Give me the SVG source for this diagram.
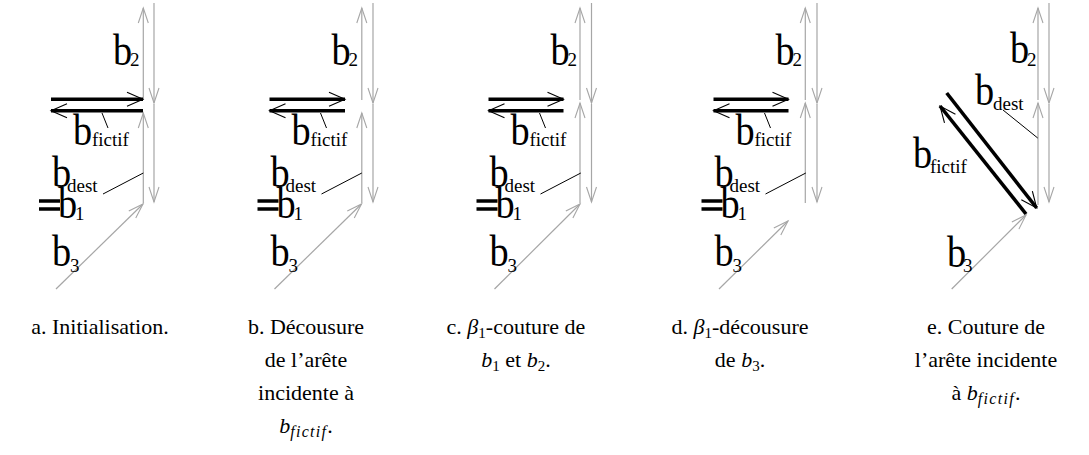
<svg xmlns="http://www.w3.org/2000/svg" width="1089" height="455" viewBox="0 0 1089 455" font-family="Liberation Serif, DejaVu Serif, serif">
<style>
.g{stroke:#a6a6a6;stroke-width:1.2;fill:none}
.k{stroke:#000;stroke-width:3.6;fill:none}
.l{stroke:#000;stroke-width:1;fill:none}
.ga{marker-end:url(#ag)}
.ka{marker-end:url(#ak)}
.B,.S,.cap{font-family:"Liberation Serif","DejaVu Serif",serif;fill:#000}
.B{font-size:44px}
.S{font-size:19px}
.cap{font-size:22px;text-anchor:middle}
.m{font-style:italic}
.sub{font-size:16px;font-style:italic;letter-spacing:1.3px}
.n{font-size:15px}
</style>
<defs>
<marker id="ag" markerUnits="userSpaceOnUse" markerWidth="20" markerHeight="14" viewBox="-16 -7 20 14" refX="0" refY="0" orient="auto" overflow="visible">
<path d="M-15,-5 L0,0 L-15,5" fill="none" stroke="#a6a6a6" stroke-width="1.1"/>
</marker>
<marker id="ak" markerUnits="userSpaceOnUse" markerWidth="20" markerHeight="18" viewBox="-18 -9 20 18" refX="0" refY="0" orient="auto" overflow="visible">
<path d="M-16,-7 L0,0 L-16,7" fill="none" stroke="#000" stroke-width="1.1"/>
</marker>
<g id="lbl">
<text class="B" transform="matrix(0.87,0,0,1,113,65)">b</text><text class="S" x="130" y="66">2</text>
<text class="B" transform="matrix(0.87,0,0,1,73,145)">b</text><text class="S" x="92" y="146">fictif</text>
<text class="B" transform="matrix(0.87,0,0,1,52,187)">b</text><text class="S" x="67" y="192">dest</text>
<text class="B" transform="matrix(0.87,0,0,1,58,218)">b</text><text class="S" x="75" y="220">1</text>
<text class="B" transform="matrix(0.87,0,0,1,52,266)">b</text><text class="S" x="70" y="272">3</text>
<path class="l" d="M102,113 L108,128 M103,194 L143.3,173"/>
<path class="k" d="M39,201 L60,201 M39,209 L60,209"/>
</g>
</defs>

<g id="panel-a">
<g id="a-connectors">
<path class="g ga" d="M143.3,100 L143.3,8"/>
<path class="g ga" d="M143.3,203 L143.3,113"/>
<path class="g ga" d="M154,3 L154,103"/>
<path class="g ga" d="M154,104 L154,202"/>
<path class="g ga" d="M56,289 L143,204"/>
<path class="k ka" d="M51,99.3 L143,99.3"/>
<path class="k ka" d="M143,110.7 L51,110.7"/>
</g>
<g id="a-labels"><use href="#lbl"/></g>
<text class="cap" x="100" y="334">a. Initialisation.</text>
</g>

<g id="panel-b">
<g id="b-connectors" transform="translate(218.5,0)">
<path class="g ga" d="M143.3,100 L143.3,8"/>
<path class="g ga" d="M143.3,203 L143.3,113"/>
<path class="g ga" d="M154.5,3 L154.5,103"/>
<path class="g ga" d="M154.5,104 L154.5,202"/>
<path class="g ga" d="M56,289 L143,204"/>
<path class="k ka" d="M51,99.3 L126.5,99.3"/>
<path class="k ka" d="M126.5,110.7 L51,110.7"/>
</g>
<g id="b-labels" transform="translate(218.5,0)"><use href="#lbl"/></g>
<text class="cap" x="306" y="334">b. Décousure</text>
<text class="cap" x="306" y="367">de l’arête</text>
<text class="cap" x="306" y="400">incidente à</text>
<text class="cap" x="306" y="433"><tspan class="m">b</tspan><tspan class="sub" dy="4">fictif</tspan><tspan dy="-4">.</tspan></text>
</g>

<g id="panel-c">
<g id="c-connectors" transform="translate(437.5,0)">
<path class="g ga" d="M142.5,100 L142.5,8"/>
<path class="g ga" d="M142.5,203 L142.5,103"/>
<path class="g ga" d="M154,3 L154,103"/>
<path class="g ga" d="M154,104 L154,202"/>
<path class="g ga" d="M57,289 L142.5,204"/>
<path class="k ka" d="M51,99.3 L126,99.3"/>
<path class="k ka" d="M126,110.7 L51,110.7"/>
</g>
<g id="c-labels" transform="translate(437.5,0)"><use href="#lbl"/></g>
<text class="cap" x="516" y="334">c. <tspan class="m">β</tspan><tspan class="n" dy="4">1</tspan><tspan dy="-4">-couture de</tspan></text>
<text class="cap" x="516" y="367"><tspan class="m">b</tspan><tspan class="n" dy="4">1</tspan><tspan dy="-4"> et </tspan><tspan class="m">b</tspan><tspan class="n" dy="4">2</tspan><tspan dy="-4">.</tspan></text>
</g>

<g id="panel-d">
<g id="d-connectors" transform="translate(662.5,0)">
<path class="g ga" d="M142.8,100 L142.8,8"/>
<path class="g ga" d="M142.8,203 L142.8,103"/>
<path class="g ga" d="M154.5,3 L154.5,103"/>
<path class="g ga" d="M154.5,104 L154.5,202"/>
<path class="g ga" d="M56.5,289 L125.5,221"/>
<path class="k ka" d="M51,99.3 L126,99.3"/>
<path class="k ka" d="M126,110.7 L51,110.7"/>
</g>
<g id="d-labels" transform="translate(662.5,0)"><use href="#lbl"/></g>
<text class="cap" x="740" y="334">d. <tspan class="m">β</tspan><tspan class="n" dy="4">1</tspan><tspan dy="-4">-décousure</tspan></text>
<text class="cap" x="740" y="367">de <tspan class="m">b</tspan><tspan class="n" dy="4">3</tspan><tspan dy="-4">.</tspan></text>
</g>

<g id="panel-e">
<g id="e-connectors">
<path class="g ga" d="M1038,100 L1038,8"/>
<path class="g ga" d="M1038,205 L1038,103"/>
<path class="g ga" d="M1049,3 L1049,103"/>
<path class="g ga" d="M1049,104 L1049,202"/>
<path class="g ga" d="M951.7,289 L1026,215"/>
<path class="k ka" d="M946.7,93 L1036.7,208"/>
<path class="k ka" d="M1026,214 L940,106"/>
<path class="l" d="M1003,110 L1037.7,138"/>
</g>
<g id="e-labels">
<text class="B" transform="matrix(0.87,0,0,1,1010,63)">b</text><text class="S" x="1027" y="66">2</text>
<text class="B" transform="matrix(0.87,0,0,1,975,105)">b</text><text class="S" x="993" y="110">dest</text>
<text class="B" transform="matrix(0.87,0,0,1,913,168)">b</text><text class="S" x="930" y="173">fictif</text>
<text class="B" transform="matrix(0.87,0,0,1,947,267)">b</text><text class="S" x="963" y="272">3</text>
</g>
<text class="cap" x="986" y="334">e. Couture de</text>
<text class="cap" x="986" y="367">l’arête incidente</text>
<text class="cap" x="986" y="400">à <tspan class="m">b</tspan><tspan class="sub" dy="4">fictif</tspan><tspan dy="-4">.</tspan></text>
</g>
</svg>
